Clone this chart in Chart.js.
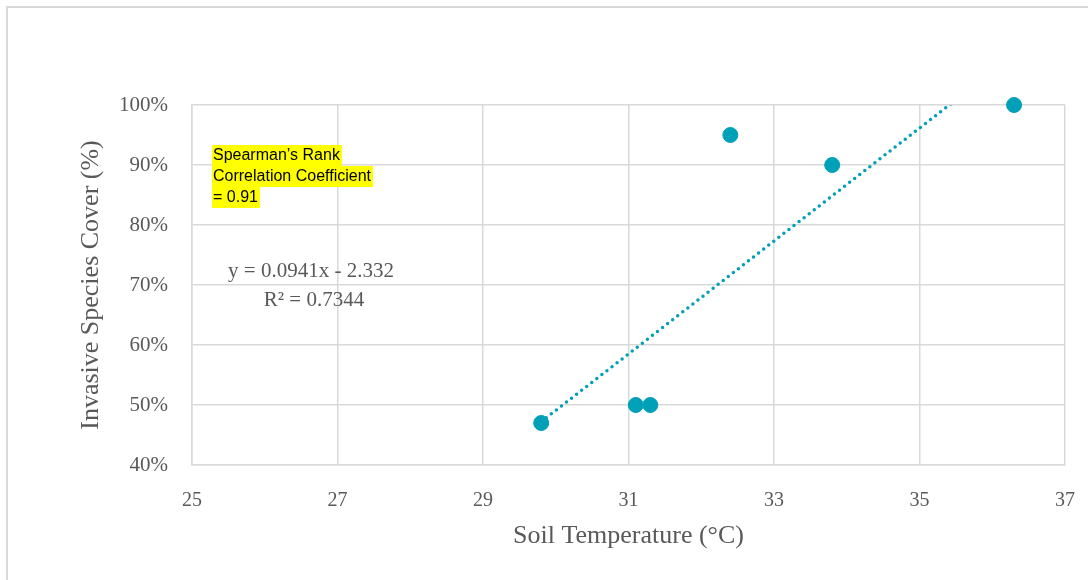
<!DOCTYPE html>
<html>
<head>
<meta charset="utf-8">
<script src="https://cdn.jsdelivr.net/npm/chart.js@4"></script>
<style>
  html, body { margin: 0; padding: 0; background: #fff; }
  #wrap { width: 1088px; height: 580px; position: relative; }
</style>
</head>
<body>
<div id="wrap"><canvas id="chartSoil" width="1088" height="580"></canvas></div>
<script>
// soil temperature (°C) vs invasive species cover (fraction)
const tempX = [29.8, 31.1, 31.3, 32.4, 33.8, 36.3];
const coverY = [0.47, 0.50, 0.50, 0.95, 0.90, 1.00];

// linear trendline as shown on the chart
const trendSlope = 0.0941;
const trendIntercept = -2.332;
const trendText = ['y = 0.0941x - 2.332', 'R² = 0.7344'];
const spearmanText = ['Spearman\u2019s Rank', 'Correlation Coefficient', '= 0.91'];

const teal = '#00A0B8';
const grey = '#595959';
const gridGrey = '#d9d9d9';
const serif = "'Liberation Serif', 'DejaVu Serif', serif";

const xMin = Math.min(...tempX);
const xMax = Math.max(...tempX);
const trendPts = [xMin, xMax].map(x => ({ x: x, y: trendSlope * x + trendIntercept }));

const notesPlugin = {
    id: 'notes',
    beforeDraw(chart) {
        const c = chart.ctx;
        c.save();
        c.strokeStyle = gridGrey;
        c.lineWidth = 2;
        c.beginPath();
        c.moveTo(7, 580);
        c.lineTo(7, 7);
        c.lineTo(1088, 7);
        c.stroke();
        c.restore();
    },
    afterDraw(chart) {
        const c = chart.ctx;
        c.save();
        // highlighted spearman note
        c.font = "16px 'Liberation Sans', Arial, sans-serif";
        c.textBaseline = 'middle';
        c.textAlign = 'left';
        spearmanText.forEach((t, i) => {
            const y = 156 + i * 21;
            const w = c.measureText(t).width;
            c.fillStyle = '#ffff00';
            c.fillRect(212, y - 11, w + 3, 21);
        });
        c.fillStyle = '#000';
        spearmanText.forEach((t, i) => {
            c.fillText(t, 213, 156 + i * 21);
        });
        // trendline equation
        c.font = '21px ' + serif;
        c.fillStyle = grey;
        c.textAlign = 'center';
        c.fillText(trendText[0], 311, 271);
        c.fillText(trendText[1], 314, 300);
        c.restore();
    }
};

const ctx = document.getElementById('chartSoil').getContext('2d');

new Chart(ctx, {
    type: 'scatter',
    data: {
        datasets: [{
            label: 'Cover',
            data: tempX.map((x, i) => ({ x: x, y: coverY[i] })),
            backgroundColor: teal,
            borderColor: teal,
            pointRadius: 7.5,
            pointHoverRadius: 7.5,
            clip: false,
            order: 1
        }, {
            label: 'Linear trend',
            type: 'line',
            data: trendPts,
            borderColor: teal,
            borderWidth: 3.5,
            borderDash: [0, 6.4],
            borderCapStyle: 'round',
            pointRadius: 0,
            fill: false,
            order: 2
        }]
    },
    options: {
        responsive: false,
        animation: false,
        layout: { padding: { top: 105, right: 23, left: 0, bottom: 0 } },
        plugins: {
            legend: { display: false },
            tooltip: { enabled: false }
        },
        scales: {
            x: {
                type: 'linear',
                min: 25,
                max: 37,
                afterFit(scale) {
                    scale.height = 115;
                    scale.paddingLeft = 0;
                    scale.paddingRight = 0;
                },
                grid: { color: gridGrey, lineWidth: 1.5, drawTicks: false },
                border: { color: gridGrey, width: 1.5 },
                ticks: {
                    stepSize: 2,
                    padding: 24,
                    color: grey,
                    font: { family: serif, size: 20 }
                },
                title: {
                    display: true,
                    text: 'Soil Temperature (°C)',
                    color: grey,
                    font: { family: serif, size: 26 },
                    padding: { top: 0, bottom: 28 }
                }
            },
            y: {
                type: 'linear',
                min: 0.4,
                max: 1.0,
                afterFit(scale) { scale.width = 192; },
                grid: { color: gridGrey, lineWidth: 1.5, drawTicks: false },
                border: { color: gridGrey, width: 1.5 },
                ticks: {
                    stepSize: 0.1,
                    padding: 24,
                    color: grey,
                    font: { family: serif, size: 21 },
                    callback: v => Math.round(v * 100) + '%'
                },
                title: {
                    display: true,
                    text: 'Invasive Species Cover (%)',
                    color: grey,
                    font: { family: serif, size: 26 },
                    padding: { top: 76, bottom: 0 }
                }
            }
        }
    },
    plugins: [notesPlugin]
});
</script>
</body>
</html>
